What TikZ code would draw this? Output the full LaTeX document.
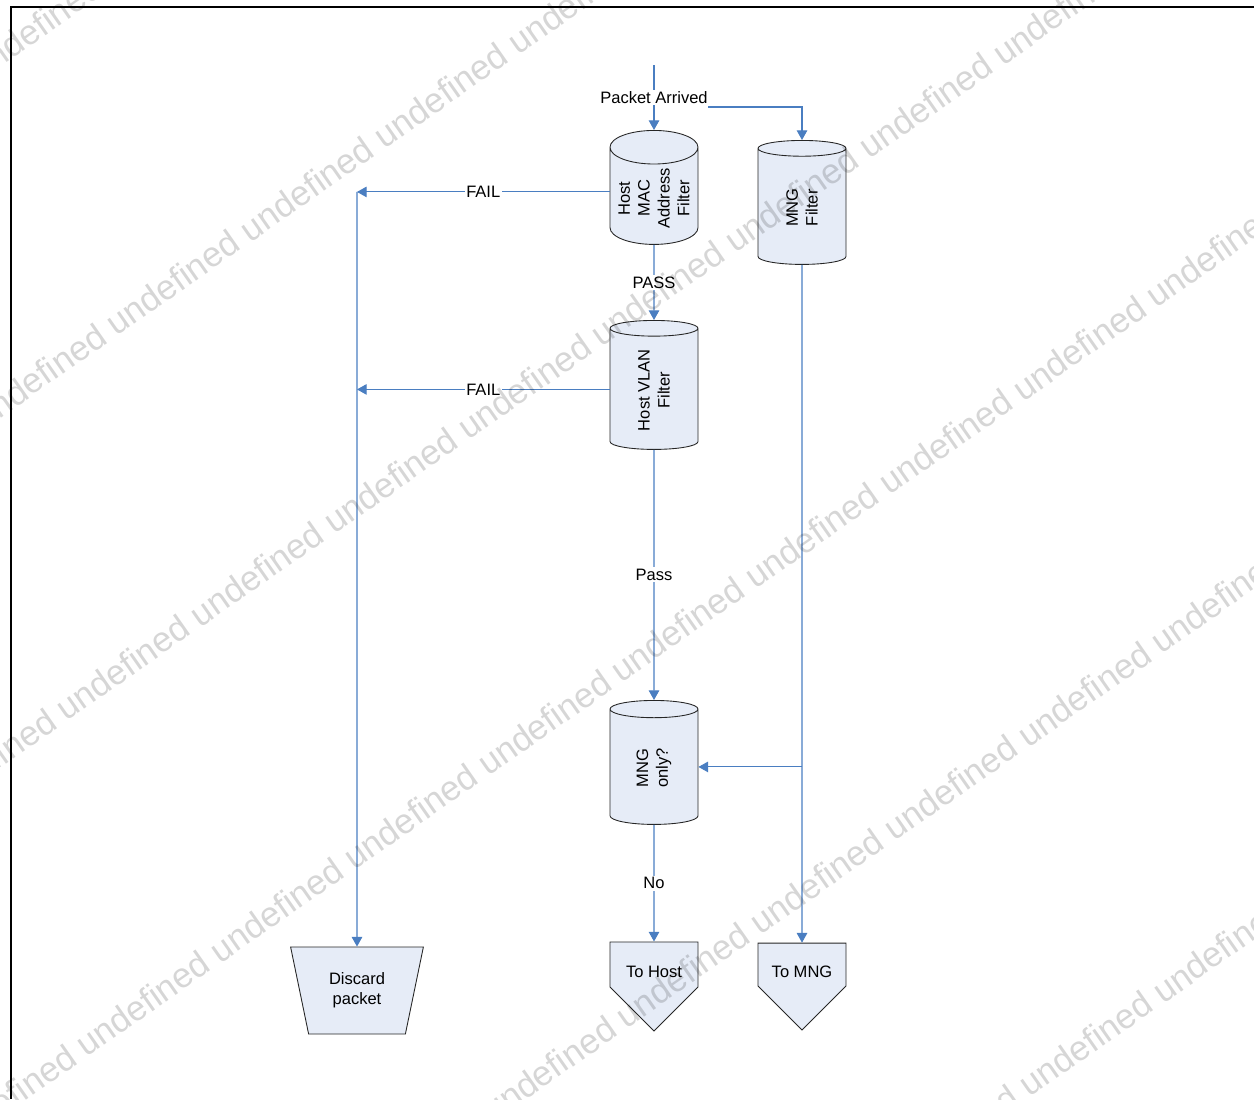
\documentclass[tikz,border=0pt]{standalone}
\usepackage{fontspec}
\setmainfont{Liberation Sans}
\usetikzlibrary{shapes.geometric,shapes.symbols,arrows.meta}

\definecolor{flowblue}{RGB}{74,126,193}
\definecolor{boxfill}{RGB}{230,236,247}
\newcommand{\lblfont}{\fontsize{9.4}{11.3}\selectfont}
\newcommand{\wmtext}{undefined undefined undefined undefined undefined undefined undefined undefined undefined undefined undefined undefined}

\tikzset{
  flow/.style={draw=flowblue, line width=0.6pt, -{Triangle[length=5.5pt,width=6pt]}},
  lbl/.style={fill=white, inner sep=1pt, font=\lblfont},
  store/.style={cylinder, rotate=90, anchor=east, aspect=0.45, draw=black!85, fill=boxfill,
    line width=0.5pt, minimum width=1.76cm, inner sep=1pt, align=center, font=\lblfont},
  discardbox/.style={trapezium, shape border rotate=180, trapezium angle=75,
    trapezium stretches=true, draw=black!85, fill=boxfill, line width=0.5pt,
    minimum width=2.66cm, minimum height=1.74cm, align=center, font=\lblfont},
  exitbox/.style={signal, signal to=south, signal pointer angle=90, draw=black!85,
    fill=boxfill, line width=0.5pt, minimum width=1.76cm, minimum height=1.58cm,
    text height=15pt, text depth=0pt, font=\lblfont},
  wm/.style={anchor=west, rotate=35, text=black, text opacity=0.16, inner sep=0pt,
    font=\fontsize{19.9}{24}\selectfont}
}

\begin{document}
\begin{tikzpicture}[x=0.02cm,y=-0.02cm]
  \useasboundingbox (0,0) rectangle (1254,1099);
  % Frame
  \draw[line width=1.2pt] (11,1099) -- (11,7) -- (1254,7);

  % Filters (placed by their top)
  \node[store, minimum height=2.28cm] (mac) at (654,130) {Host\\MAC\\Address\\Filter};
  \node[store, minimum height=2.48cm] (mngf) at (802,140) {MNG\\Filter};
  \node[store, minimum height=2.58cm] (vlan) at (654,320) {Host VLAN\\Filter};
  \node[store, minimum height=2.48cm] (mngonly) at (654,700) {MNG\\only?};

  % Outputs
  \node[discardbox] (discard) at (357,990.5) {Discard\\packet};
  \node[exitbox] (tohost) at (654,964.5) {To Host};
  \node[exitbox] (tomng) at (802,964.5) {To MNG};

  % Side ports
  \coordinate (macport) at ([yshift=-0.09cm]mac.shape center);
  \coordinate (vlanport) at ([yshift=-0.09cm]vlan.shape center);
  \coordinate (onlyport) at ([yshift=-0.09cm]mngonly.shape center);

  % Flow
  \coordinate (in) at (654,65);
  \draw[flow] (in) -- node[lbl] (arrived) {Packet Arrived} (mac);
  \coordinate (split) at (708,107);
  \draw[flow] (split) -| (mngf);
  \draw[flow] (mac.north |- macport) -- node[lbl] {FAIL} (macport -| discard);
  \draw[flow] (vlan.north |- vlanport) -- node[lbl] {FAIL} (vlanport -| discard);
  \draw[flow] (macport -| discard) -- (discard);
  \draw[flow] (mac) -- node[lbl] {PASS} (vlan);
  \draw[flow] (vlan) -- node[lbl] {Pass} (mngonly);
  \draw[flow] (mngonly) -- node[lbl] {No} (tohost);
  \draw[flow] (mngf) -- (tomng);
  \coordinate (tap) at (mngf |- onlyport);
  \draw[flow] (tap) -- (mngonly.south |- tap);

  % Watermark
  \foreach \sx/\sy in {-295/259, -158/514, -208/899, -188/1235, -183/1581, -48/1837}
    \node[wm] at (\sx,\sy) {\wmtext};
\end{tikzpicture}
\end{document}
